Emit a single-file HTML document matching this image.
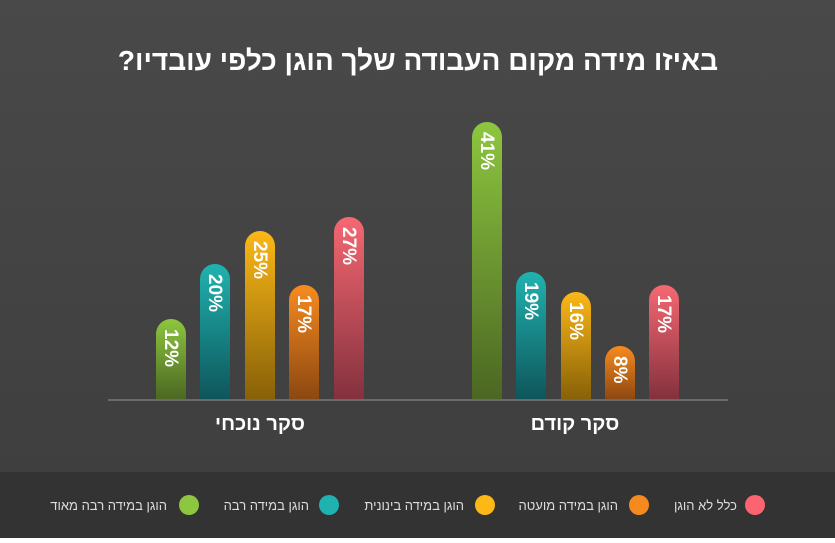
<!DOCTYPE html>
<html><head><meta charset="utf-8"><style>
body{margin:0;width:835px;height:538px;overflow:hidden;font-family:"Liberation Sans","Noto Sans CJK SC",sans-serif}
</style></head><body>
<svg width="835" height="538" xmlns="http://www.w3.org/2000/svg" font-family="Liberation Sans, Noto Sans CJK SC, sans-serif">
<defs>
<linearGradient id="bg" x1="0" y1="0" x2="0" y2="1"><stop offset="0" stop-color="#494949"/><stop offset="1" stop-color="#3f3f3f"/></linearGradient>
<linearGradient id="g" x1="0" y1="0" x2="0" y2="1"><stop offset="0" stop-color="#8dc63f"/><stop offset="1" stop-color="#4b6622"/></linearGradient>
<linearGradient id="t" x1="0" y1="0" x2="0" y2="1"><stop offset="0" stop-color="#20b3b0"/><stop offset="1" stop-color="#0e555a"/></linearGradient>
<linearGradient id="y" x1="0" y1="0" x2="0" y2="1"><stop offset="0" stop-color="#fbb817"/><stop offset="1" stop-color="#876008"/></linearGradient>
<linearGradient id="o" x1="0" y1="0" x2="0" y2="1"><stop offset="0" stop-color="#f78b1f"/><stop offset="1" stop-color="#8b4711"/></linearGradient>
<linearGradient id="r" x1="0" y1="0" x2="0" y2="1"><stop offset="0" stop-color="#f56872"/><stop offset="1" stop-color="#83313d"/></linearGradient>
</defs>
<rect width="835" height="472" fill="url(#bg)"/>
<rect y="472" width="835" height="66" fill="#333"/>
<text x="418" y="70" text-anchor="middle" fill="#fff" font-size="28" font-weight="bold" direction="rtl">באיזו מידה מקום העבודה שלך הוגן כלפי עובדיו?</text>
<g font-size="19" font-weight="bold" fill="#fff">
<path d="M156,400V334a15,15 0 0 1 30,0V400Z" fill="url(#g)"/>
<path d="M200,400V279a15,15 0 0 1 30,0V400Z" fill="url(#t)"/>
<path d="M245,400V246a15,15 0 0 1 30,0V400Z" fill="url(#y)"/>
<path d="M289,400V300a15,15 0 0 1 30,0V400Z" fill="url(#o)"/>
<path d="M334,400V232a15,15 0 0 1 30,0V400Z" fill="url(#r)"/>
<path d="M472,400V137a15,15 0 0 1 30,0V400Z" fill="url(#g)"/>
<path d="M516,400V287a15,15 0 0 1 30,0V400Z" fill="url(#t)"/>
<path d="M561,400V307a15,15 0 0 1 30,0V400Z" fill="url(#y)"/>
<path d="M605,400V361a15,15 0 0 1 30,0V400Z" fill="url(#o)"/>
<path d="M649,400V300a15,15 0 0 1 30,0V400Z" fill="url(#r)"/>
<text transform="translate(165,329) rotate(90)">12%</text>
<text transform="translate(209,274) rotate(90)">20%</text>
<text transform="translate(254,241) rotate(90)">25%</text>
<text transform="translate(298,295) rotate(90)">17%</text>
<text transform="translate(343,227) rotate(90)">27%</text>
<text transform="translate(481,132) rotate(90)">41%</text>
<text transform="translate(525,282) rotate(90)">19%</text>
<text transform="translate(570,302) rotate(90)">16%</text>
<text transform="translate(614,356) rotate(90)">8%</text>
<text transform="translate(658,295) rotate(90)">17%</text>
</g>
<rect x="108" y="399" width="620" height="2" fill="#6a6a6a"/>
<text x="260" y="430" text-anchor="middle" fill="#fff" font-size="20" font-weight="bold" direction="rtl">סקר נוכחי</text>
<text x="575" y="430" text-anchor="middle" fill="#fff" font-size="20" font-weight="bold" direction="rtl">סקר קודם</text>
<g font-size="13" fill="#ddd">
<circle cx="755" cy="505" r="10" fill="#fb6470"/><text x="737" y="510" direction="rtl" text-anchor="start">כלל לא הוגן</text>
<circle cx="639" cy="505" r="10" fill="#f58a1f"/><text x="618" y="510" direction="rtl" text-anchor="start">הוגן במידה מועטה</text>
<circle cx="485" cy="505" r="10" fill="#fbb817"/><text x="464" y="510" direction="rtl" text-anchor="start">הוגן במידה בינונית</text>
<circle cx="329" cy="505" r="10" fill="#20b2b0"/><text x="309" y="510" direction="rtl" text-anchor="start">הוגן במידה רבה</text>
<circle cx="189" cy="505" r="10" fill="#8dc63f"/><text x="167" y="510" direction="rtl" text-anchor="start">הוגן במידה רבה מאוד</text>
</g>
</svg>
</body></html>
